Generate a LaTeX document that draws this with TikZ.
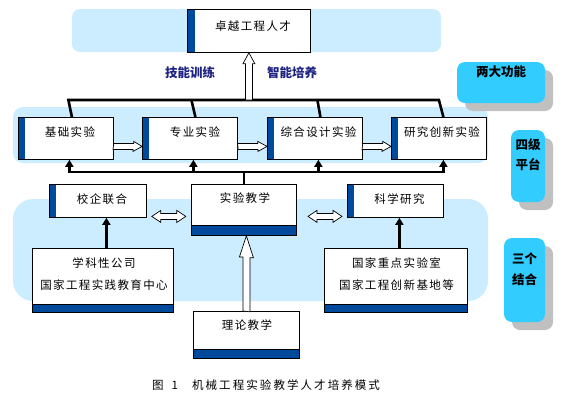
\documentclass[tikz,border=0pt]{standalone}
\usepackage{fontspec}
\setmainfont{Noto Sans CJK SC}
\newfontfamily\boxfont[LetterSpace=12]{Noto Sans CJK SC}
\newfontfamily\capfont[LetterSpace=18]{Noto Sans CJK SC}
\usetikzlibrary{arrows.meta}
\definecolor{bandblue}{RGB}{204,236,255}
\definecolor{stripblue}{RGB}{0,74,158}
\definecolor{labcyan}{RGB}{51,204,255}
\definecolor{shadowgray}{RGB}{192,192,192}
\definecolor{navytext}{RGB}{30,35,130}
\begin{document}
\begin{tikzpicture}[x=1pt,y=-1pt,
  box/.style={draw=black, fill=white, line width=0.8pt, inner sep=0pt, anchor=north west},
  lstrip/.style={path picture={\fill[stripblue] (path picture bounding box.north west) rectangle ([xshift=#1]path picture bounding box.south west);}},
  bstrip/.style={path picture={\fill[stripblue] (path picture bounding box.south west) rectangle ([yshift=#1]path picture bounding box.south east);
     \draw[line width=1.6pt] ([yshift=#1]path picture bounding box.south west) -- ([yshift=#1]path picture bounding box.south east);}},
  txt/.style={inner sep=0pt, font=\boxfont\fontsize{11.5pt}{15pt}\selectfont},
  btxt/.style={inner sep=0pt, font=\fontsize{12.5pt}{15pt}\selectfont\bfseries},
  harrow/.style={draw=black, fill=white, line width=0.7pt, line join=miter},
  conn/.style={draw=black, line width=2.6pt, line join=miter},
  tip/.style={-{Triangle[width=8pt,length=7pt]}},
]
\useasboundingbox (0,0) rectangle (569,399);
% bands
\fill[bandblue, rounded corners=8pt] (72,9) rectangle (441,52);
\fill[bandblue, rounded corners=10pt] (13,107) rectangle (488,163);
\fill[bandblue, rounded corners=20pt] (13,199) rectangle (488,301);
% right labels
\fill[shadowgray, rounded corners=8pt] (465,70) rectangle (553,111);
\fill[labcyan, rounded corners=8pt] (457,62) rectangle (545,103);
\fill[shadowgray, rounded corners=8pt] (519,138) rectangle (553,210);
\fill[labcyan, rounded corners=8pt] (511,130) rectangle (545,202);
\fill[shadowgray, rounded corners=8pt] (512,246) rectangle (553,330);
\fill[labcyan, rounded corners=8pt] (504,238) rectangle (545,322);
\node[btxt] (l1) at (501,72) {两大功能};
\node[btxt] (l2) at (528,145) {四级};
\node[btxt] (l3) at (528,165) {平台};
\node[btxt] (l4) at (524.5,259) {三个};
\node[btxt] (l5) at (524.5,280) {结合};
% boxes
\node[box, lstrip=8pt, minimum width=123pt, minimum height=43pt] (top) at (187,9) {};
\node[box, lstrip=7pt, minimum width=95pt, minimum height=42pt] (b1) at (18,117) {};
\node[box, lstrip=7pt, minimum width=95pt, minimum height=42pt] (b2) at (142,117) {};
\node[box, lstrip=7pt, minimum width=95pt, minimum height=42pt] (b3) at (267,117) {};
\node[box, lstrip=7pt, minimum width=95pt, minimum height=42pt] (b4) at (391,117) {};
\node[box, lstrip=7pt, minimum width=97pt, minimum height=33pt] (xq) at (49,184) {};
\node[box, bstrip=10pt, minimum width=105pt, minimum height=51pt] (sy) at (191,184) {};
\node[box, lstrip=7pt, minimum width=96pt, minimum height=33pt] (ky) at (347,184) {};
\node[box, bstrip=8pt, minimum width=141pt, minimum height=64pt] (xk) at (32,248) {};
\node[box, bstrip=8pt, minimum width=143pt, minimum height=64pt] (gz) at (324,248) {};
\node[box, bstrip=9pt, minimum width=106pt, minimum height=47pt] (ll) at (193,311) {};
% texts
\node[txt] (ttop) at (253,26) {卓越工程人才};
\node[btxt, text=navytext] (tl) at (190,73) {技能训练};
\node[btxt, text=navytext] (tr) at (292,73) {智能培养};
\node[txt] (t1) at (70,132) {基础实验};
\node[txt] (t2) at (195,132) {专业实验};
\node[txt] (t3) at (318.5,132) {综合设计实验};
\node[txt] (t4) at (442,132) {研究创新实验};
\node[txt] (txq) at (102,199) {校企联合};
\node[txt] (tsy) at (245,198) {实验教学};
\node[txt] (tky) at (399.5,199) {科学研究};
\node[txt] (txk1) at (104,263) {学科性公司};
\node[txt] (txk2) at (104,285) {国家工程实践教育中心};
\node[txt] (tgz1) at (396.5,263) {国家重点实验室};
\node[txt] (tgz2) at (396.5,285) {国家工程创新基地等};
\node[txt] (tll) at (247,325) {理论教学};
\node[inner sep=0pt, anchor=west, font=\capfont\fontsize{11.5pt}{15pt}\selectfont] (cap) at (152,385) {图\hspace{8pt}1\hspace{14pt}机械工程实验教学人才培养模式};
% coordinates of bars
\coordinate (tbar) at (248,100);
\coordinate (bbar) at (243.5,172);
% top bracket
\draw[conn] ([xshift=6pt]b1.north) -- ([xshift=2.5pt]b1.north |- tbar) -- (b4.north |- tbar) -- ([xshift=4.5pt]b4.north);
\draw[conn] ([xshift=5.5pt]b2.north) -- ([xshift=1.5pt]b2.north |- tbar);
\draw[conn] ([xshift=5.5pt]b3.north) -- ([xshift=2.5pt]b3.north |- tbar);
% hollow arrow up to top box
\draw[harrow] (top.south) -- ([xshift=6pt,yshift=-11pt]top.south) -- ([xshift=3.5pt,yshift=-11pt]top.south)
  -- ([xshift=3.5pt]top.south |- tbar) -- ([xshift=-3.5pt]top.south |- tbar)
  -- ([xshift=-3.5pt,yshift=-11pt]top.south) -- ([xshift=-6pt,yshift=-11pt]top.south) -- cycle;
% hollow right arrows between platform boxes
\foreach \a/\b in {b1/b2, b2/b3, b3/b4}{
  \draw[harrow] ([yshift=-8pt]\a.east) ++(0,-3) -- ++(20,0) -- ++(0,-2) -- ([yshift=-8pt]\b.west)
    -- ++(-9,5) -- ++(0,-2) -- ++(-20,0) -- cycle;
}
% lower bracket
\draw[conn, {Triangle[width=8pt,length=7pt]}-{Triangle[width=8pt,length=7pt]}] ([xshift=3.5pt]b1.south) -- ([xshift=3.5pt]b1.south |- bbar) -- ([xshift=4.5pt]b4.south |- bbar) -- ([xshift=4.5pt]b4.south);
\draw[conn, tip] ([xshift=3.5pt]b2.south |- bbar) -- ([xshift=3.5pt]b2.south);
\draw[conn, tip] ([xshift=3.5pt]b3.south |- bbar) -- ([xshift=3.5pt]b3.south);
\draw[conn] (sy.north) -- (sy.north |- bbar);
% double hollow arrows
\draw[harrow] ([xshift=5pt,yshift=-15.5pt]xq.east) -- ++(9,-6) -- ++(0,3) -- ++(16,0) -- ++(0,-3) -- ++(9,6)
  -- ++(-9,6) -- ++(0,-3) -- ++(-16,0) -- ++(0,3) -- cycle;
\draw[harrow] ([xshift=-34pt,yshift=-15.5pt]ky.west) ++(-5,0) -- ++(9,-6) -- ++(0,3) -- ++(16,0) -- ++(0,-3) -- ++(9,6)
  -- ++(-9,6) -- ++(0,-3) -- ++(-16,0) -- ++(0,3) -- cycle;
% solid up arrows
\draw[conn, line width=2.8pt, tip] ([xshift=8.5pt]xq.south |- xk.north) -- ([xshift=8.5pt]xq.south);
\draw[conn, line width=2.8pt, tip] ([xshift=4pt]ky.south |- gz.north) -- ([xshift=4pt]ky.south);
% big hollow arrow
\draw[harrow] (ll.north) ++(-3.5,0) -- ++(0,-54) -- ++(-3.5,0) -- (ll.north |- sy.south) -- ++(7,22)
  -- ++(-3.5,0) -- ++(0,54) -- cycle;
\end{tikzpicture}
\end{document}
